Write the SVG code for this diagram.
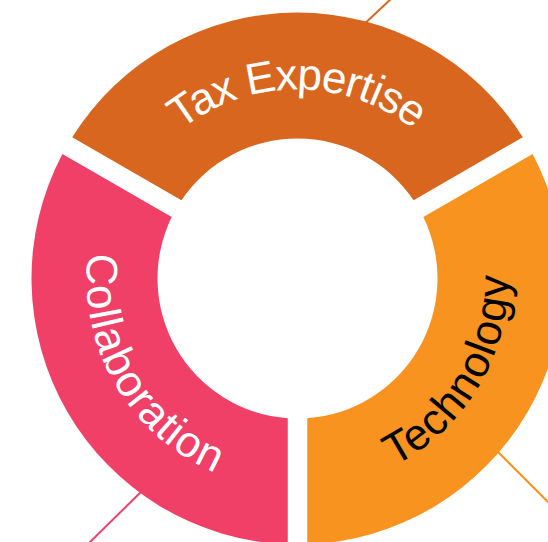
<svg xmlns="http://www.w3.org/2000/svg" xmlns:xlink="http://www.w3.org/1999/xlink" width="548" height="542" viewBox="0 0 548 542">
  <style>
    .seg-tax { fill: #D8661F; }
    .seg-col { fill: #F04068; }
    .seg-tec { fill: #F7931E; }
    .lbl { font-family: "Liberation Sans", Arial, sans-serif; font-size: 44px; }
    .connector { stroke-width: 2; fill: none; }
  </style>
  <defs>
    <path id="arcTax" d="M 97.5 278.5 A 200 200 0 0 1 497.5 278.5"/>
    <path id="arcTec" d="M 225.83 465.21 A 200 200 0 0 0 428.71 127.56"/>
    <path id="arcCol" d="M 168.94 125.29 A 200 200 0 0 0 365.9 466.44"/>
  </defs>
  <rect width="548" height="542" fill="#FFFFFF"/>
  <g id="connectors">
    <line class="connector" x1="360" y1="28" x2="393" y2="-3" stroke="#D8661F"/>
    <line class="connector" x1="146" y1="487" x2="85" y2="547" stroke="#F04068"/>
    <line class="connector" x1="492" y1="446" x2="554" y2="508" stroke="#F7931E"/>
  </g>
  <g id="tax-expertise">
    <path class="seg-tax" d="M 72.17 137.15 A 266 266 0 0 1 522.83 137.15 L 413.57 200.24 A 140 140 0 0 0 181.43 200.24 Z"/>
    <text class="lbl" fill="#FFFFFF" dy="11"><textPath xlink:href="#arcTax" href="#arcTax" startOffset="50%" text-anchor="middle">Tax Expertise</textPath></text>
  </g>
  <g id="technology">
    <path class="seg-tec" d="M 532.59 154.04 A 266 266 0 0 1 307.25 544.32 L 307.25 418.16 A 140 140 0 0 0 423.32 217.11 Z"/>
    <text class="lbl" fill="#000000" dy="11"><textPath xlink:href="#arcTec" href="#arcTec" startOffset="50%" text-anchor="middle">Technology</textPath></text>
  </g>
  <g id="collaboration">
    <path class="seg-col" d="M 287.75 544.32 A 266 266 0 0 1 62.41 154.04 L 171.68 217.11 A 140 140 0 0 0 287.75 418.16 Z"/>
    <text class="lbl" fill="#FFFFFF" dy="11"><textPath xlink:href="#arcCol" href="#arcCol" startOffset="50%" text-anchor="middle">Collaboration</textPath></text>
  </g>
</svg>
